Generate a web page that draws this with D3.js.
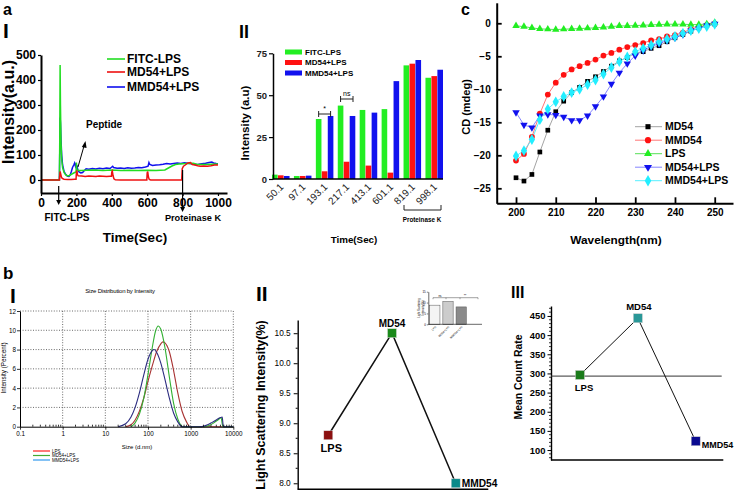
<!DOCTYPE html>
<html><head><meta charset="utf-8">
<script src="https://cdn.jsdelivr.net/npm/d3@7"></script>
<style>
body{margin:0;background:#fff}
svg{display:block;font-family:"Liberation Sans",Arial,Helvetica,sans-serif}
</style>
</head><body>
<svg id="fig" width="738" height="493"></svg>
<script>
// ---------------- DATA ----------------
// Panel a-I : fluorescence intensity vs time (sec)
const aI_FITC = [[0,0],[100,0],[104,0],[106,160],[108,460],[110,300],[113,150],[117,80],[122,50],[130,30],[140,20],[150,16],[160,18],[170,22],[180,26],[190,30],[198,32],[200,70],[202,40],[205,40],[215,38],[230,38],[260,39],[300,40],[350,38],[400,40],[450,38],[500,39],[550,38],[600,39],[650,38],[700,40],[720,48],[740,56],[760,62],[780,64],[800,65],[830,66],[860,67],[880,63],[900,62],[930,62],[960,63],[990,64],[1000,64]];
const aI_MD54 = [[0,0],[100,0],[104,0],[106,20],[108,34],[111,25],[115,12],[120,6],[130,3],[150,2],[170,2],[190,3],[198,3],[200,30],[203,38],[206,22],[210,17],[230,16],[250,14],[270,16],[290,15],[310,14],[330,16],[350,15],[370,14],[390,15],[398,15],[400,32],[403,36],[407,18],[412,5],[420,1],[450,0],[500,0],[550,0],[598,0],[600,28],[603,34],[607,12],[612,2],[620,0],[700,0],[790,0],[795,0],[798,45],[805,55],[815,60],[830,68],[845,70],[855,62],[870,60],[885,57],[900,55],[920,56],[940,55],[960,57],[980,60],[1000,60]];
const aI_MMD54 = [[0,0],[100,0],[104,0],[106,120],[108,250],[110,230],[113,160],[117,100],[122,60],[130,35],[140,22],[150,15],[158,14],[165,20],[172,35],[178,50],[185,60],[190,68],[195,55],[198,62],[203,58],[208,40],[215,32],[225,28],[235,30],[245,38],[255,45],[270,43],[290,46],[310,44],[330,47],[350,45],[370,48],[390,46],[405,55],[410,50],[430,47],[450,48],[470,46],[490,49],[510,47],[530,48],[550,50],[570,49],[590,52],[605,55],[610,70],[615,62],[630,58],[650,60],[670,61],[690,63],[710,66],[730,64],[750,66],[770,68],[790,66],[810,69],[830,67],[850,65],[870,62],[890,63],[910,65],[930,67],[950,70],[965,72],[975,68],[990,66],[1000,65]];
const aI_xTicks = [0,200,400,600,800,1000];
const aI_yTicks = [0,100,200,300,400,500];

// Panel a-II : grouped bars
const aII_times = ["50.1","97.1","193.1","217.1","413.1","601.1","819.1","998.1"];
const aII_FITC  = [2.6,1.8,35.8,43.8,41.2,41.7,67.8,60.4];
const aII_MD54  = [2.2,1.8,4.6,10.3,8.0,3.8,68.8,61.4];
const aII_MMD54 = [1.8,2.0,37.6,37.6,39.6,58.4,71.0,65.2];
const aII_yTicks = [0,25,50,75];

// Panel c : CD spectra
const c_wl = [200,202,204,206,208,210,212,214,216,218,220,222,224,226,228,230,232,234,236,238,240,242,244,246,248,250];
const c_MD54     = [-23.4,-23.9,-22.9,-19.5,-16.2,-13.4,-11.8,-10.5,-9.7,-8.8,-8.1,-7.3,-6.5,-5.7,-5.2,-4.5,-4.3,-3.8,-3.4,-2.8,-2.2,-1.7,-1.2,-0.7,-0.3,-0.1];
const c_MMD54    = [-20.8,-19.8,-17.2,-13.7,-10.8,-9.0,-7.8,-7.0,-6.5,-6.0,-5.5,-4.9,-4.5,-4.0,-3.6,-3.3,-3.0,-2.6,-2.4,-2.0,-1.8,-1.4,-0.9,-0.5,-0.3,-0.1];
const c_LPS      = [-0.4,-0.5,-0.7,-0.85,-0.9,-0.95,-0.9,-0.85,-0.8,-0.75,-0.7,-0.6,-0.5,-0.4,-0.4,-0.35,-0.3,-0.25,-0.2,-0.15,-0.15,-0.15,-0.2,-0.2,-0.1,0.1];
const c_MD54LPS  = [-13.5,-15.4,-15.8,-14.0,-13.8,-13.9,-14.2,-14.7,-14.7,-14.0,-12.6,-11.1,-9.2,-7.5,-6.1,-4.9,-4.1,-3.5,-3.1,-2.6,-2.2,-1.7,-1.1,-0.8,-0.35,-0.1];
const c_MMD54LPS = [-20.1,-19.3,-17.6,-14.6,-13.0,-11.9,-11.1,-10.5,-10.0,-9.3,-8.6,-7.7,-6.7,-5.8,-5.1,-4.3,-3.8,-3.3,-2.8,-2.4,-2.0,-1.5,-1.1,-0.8,-0.5,-0.15];
const c_xTicks = [200,210,220,230,240,250];
const c_yTicks = [0,-5,-10,-15,-20,-25];

// Panel b-I : DLS size distribution (size d.nm, intensity %)
const bI_LPS = [[30,0],[40,0.2],[50,0.7],[63,1.6],[80,3.0],[100,4.7],[126,6.3],[160,7.8],[200,8.6],[224,8.8],[250,8.7],[316,7.8],[400,5.8],[500,3.5],[630,1.6],[800,0.5],[950,0],[10000,0]];
const bI_MD54LPS = [[40,0],[50,0.4],[63,1.3],[80,3.0],[100,5.4],[126,8.2],[150,9.9],[175,10.45],[200,10.1],[250,8.2],[316,5.2],[400,2.4],[500,0.8],[600,0.1],[650,0],[2100,0],[2800,0.15],[3500,0.4],[4500,0.75],[5200,0.93],[5500,0.3],[5700,0],[10000,0]];
const bI_MMD54LPS = [[20,0],[30,0.3],[40,1.0],[50,2.0],[63,3.5],[80,5.4],[100,7.0],[126,7.9],[140,8.0],[160,7.7],[200,6.6],[250,4.9],[316,3.0],[400,1.4],[500,0.5],[630,0],[1600,0],[2000,0.05],[2500,0.2],[3200,0.45],[4000,0.7],[5000,0.95],[5500,1.0],[5800,0.1],[6000,0],[10000,0]];
const bI_xTicks = [0.1,1,10,100,1000,10000];
const bI_yTicks = [0,2,4,6,8,10,12];

// Panel b-II : light scattering intensity
const bII_cats = ["LPS","MD54","MMD54"];
const bII_vals = [8.8,10.5,8.0];
const bII_yTicks = [8.0,8.5,9.0,9.5,10.0,10.5];
const bII_inCats = ["LPS","MD54+LPS","MMD54+LPS"];
const bII_inVals = [8.8,10.5,8.0];

// Panel b-III : mean count rate
const bIII_cats = ["LPS","MD54","MMD54"];
const bIII_vals = [296,444,123];
const bIII_ref = 293;
const bIII_yTicks = [100,150,200,250,300,350,400,450];

// ---------------- HELPERS ----------------
const svg = d3.select("#fig");
function txt(g,x,y,s,o={}){
  const t=g.append("text").attr("x",x).attr("y",y).text(s)
    .attr("font-size",o.size||12).attr("font-weight",o.weight||"bold")
    .attr("text-anchor",o.anchor||"start").attr("fill",o.fill||"#000");
  if(o.rot!=null) t.attr("transform",`rotate(${o.rot},${x},${y})`);
  if(o.dy) t.attr("dy",o.dy);
  if(o.ls) t.attr("letter-spacing",o.ls);
  return t;
}
function styleAxis(g,o){
  g.select(".domain").attr("stroke","#000").attr("stroke-width",o.sw||1.5);
  g.selectAll(".tick line").attr("stroke","#000").attr("stroke-width",o.tw||1.2);
  g.selectAll(".tick text").attr("font-size",o.fs||10).attr("font-weight",o.fw||"bold")
    .attr("font-family",'"Liberation Sans",Arial,sans-serif').attr("fill",o.fill||"#000");
}
function arrowDown(g,x,y1,y2){
  g.append("line").attr("x1",x).attr("x2",x).attr("y1",y1).attr("y2",y2-4).attr("stroke","#000").attr("stroke-width",1.2);
  g.append("path").attr("d",`M${x-2.5},${y2-5}L${x+2.5},${y2-5}L${x},${y2}Z`).attr("fill","#000");
}

// panel letters
txt(svg,3,15,"a",{size:16});
txt(svg,3,38,"I",{size:21});
txt(svg,239,38,"II",{size:18});
txt(svg,461,15,"c",{size:16});
txt(svg,3,279,"b",{size:17});
txt(svg,10,303,"I",{size:21});
txt(svg,256,301,"II",{size:21});
txt(svg,511,298,"III",{size:16});

// ---------------- PANEL a-I ----------------
{
  const g=svg.append("g");
  const x=d3.scaleLinear().domain([0,1051]).range([41,227]);
  const y=d3.scaleLinear().domain([-52,500]).range([193,55]);
  const line=d3.line().x(d=>x(d[0])).y(d=>y(d[1]));
  [[aI_MMD54,"#1010ee"],[aI_FITC,"#22dd22"],[aI_MD54,"#ee1111"]].forEach(([d,c])=>{
    g.append("path").datum(d).attr("d",line).attr("fill","none").attr("stroke",c).attr("stroke-width",1.5);
  });
  const ax=g.append("g").attr("transform","translate(0,193)").call(d3.axisBottom(x).tickValues(aI_xTicks).tickFormat(d3.format("d")).tickSize(3).tickSizeOuter(0).tickPadding(2));
  styleAxis(ax,{fs:12,sw:2});
  const ay=g.append("g").attr("transform","translate(41,0)").call(d3.axisLeft(y).tickValues(aI_yTicks).tickFormat(d3.format("d")).tickSize(3).tickSizeOuter(0).tickPadding(2));
  styleAxis(ay,{fs:12,sw:2});
  txt(g,14,112,"Intensity(a.u.)",{size:16,anchor:"middle",rot:-90});
  txt(g,135,242,"Time(Sec)",{size:13.5,anchor:"middle"});
  // legend
  [["FITC-LPS","#22dd22"],["MD54+LPS","#ee1111"],["MMD54+LPS","#1010ee"]].forEach(([s,c],i)=>{
    const yy=[59,72,87][i];
    g.append("line").attr("x1",107).attr("x2",125).attr("y1",yy).attr("y2",yy).attr("stroke",c).attr("stroke-width",1.6);
    txt(g,127,yy,s,{size:12,dy:"0.36em"});
  });
  // annotations
  txt(g,86,128,"Peptide",{size:10});
  g.append("line").attr("x1",78).attr("y1",167).attr("x2",84).attr("y2",146).attr("stroke","#000").attr("stroke-width",1);
  g.append("path").attr("d","M85.5,141L81.8,147L86.6,148Z").attr("fill","#000");
  arrowDown(g,x(100),186,205);
  txt(g,67,221,"FITC-LPS",{size:10,anchor:"middle"});
  arrowDown(g,x(800),170,212);
  txt(g,193,221,"Proteinase K",{size:9.2,anchor:"middle"});
}

// ---------------- PANEL a-II ----------------
{
  const g=svg.append("g");
  const x0=d3.scaleBand().domain(aII_times).range([272,443]).paddingInner(0.2);
  const x1=d3.scaleBand().domain([0,1,2]).range([0,x0.bandwidth()]).paddingInner(0.06);
  const y=d3.scaleLinear().domain([0,75]).range([179,53.3]);
  const cols=["#22ee22","#ff1111","#1111ee"];
  [aII_FITC,aII_MD54,aII_MMD54].forEach((arr,k)=>{
    g.selectAll(null).data(arr).enter().append("rect")
      .attr("x",(d,i)=>x0(aII_times[i])+x1(k)).attr("width",x1.bandwidth())
      .attr("y",d=>y(d)).attr("height",d=>179-y(d)).attr("fill",cols[k]);
  });
  const ay=g.append("g").attr("transform","translate(273,0)").call(d3.axisLeft(y).tickValues(aII_yTicks).tickSize(4).tickSizeOuter(0).tickPadding(2));
  styleAxis(ay,{fs:9.5,sw:1.5,fill:"#222"});
  g.append("line").attr("x1",273).attr("x2",443).attr("y1",179).attr("y2",179).attr("stroke","#000").attr("stroke-width",1.5);
  aII_times.forEach(t=>{
    const cx=x0(t)+x0.bandwidth()/2+1;
    g.append("text").attr("transform",`translate(${cx},185) rotate(-45)`).attr("text-anchor","end")
      .attr("dy","0.35em").attr("font-size",10).attr("fill","#222").text(t);
  });
  txt(g,249,123,"Intensity (a.u)",{size:11.5,anchor:"middle",rot:-90});
  txt(g,354,243,"Time(Sec)",{size:9.8,anchor:"middle"});
  [["FITC-LPS",cols[0]],["MD54+LPS",cols[1]],["MMD54+LPS",cols[2]]].forEach(([s,c],i)=>{
    const yy=52+i*10.5;
    g.append("rect").attr("x",285).attr("y",yy-2.5).attr("width",17).attr("height",5).attr("fill",c);
    txt(g,305,yy,s,{size:8,dy:"0.36em"});
  });
  // significance brackets
  function br(xa,xb,yy,lab){
    g.append("path").attr("d",`M${xa},${yy-3}V${yy+3}M${xa},${yy}H${xb}M${xb},${yy-3}V${yy+3}`).attr("stroke","#222").attr("fill","none").attr("stroke-width",1);
    txt(g,(xa+xb)/2,yy-3,lab,{size:7,weight:"normal",anchor:"middle"});
  }
  const b1=x0("193.1"), b2=x0("217.1");
  br(b1+x1(0)+x1.bandwidth()/2,b1+x1(2)+x1.bandwidth()/2,114,"*");
  br(b2+x1(0)+x1.bandwidth()/2,b2+x1(2)+x1.bandwidth()/2+0.5,99,"ns");
  g.append("path").attr("d","M404,205V210H441V205").attr("stroke","#222").attr("fill","none").attr("stroke-width",1);
  txt(g,422,222,"Proteinase K",{size:6.3,anchor:"middle"});
}

// ---------------- PANEL c ----------------
{
  const g=svg.append("g");
  const x=d3.scaleLinear().domain([195.14,254.6]).range([496.7,733]);
  const y=d3.scaleLinear().domain([-27.27,3.1]).range([203.3,2.8]);
  const ser=[
    {name:"MD54",v:c_MD54,lc:"#999",mc:"#000",sym:d3.symbolSquare,sz:22,rot:0},
    {name:"MMD54",v:c_MMD54,lc:"#ff6666",mc:"#ff1111",sym:d3.symbolCircle,sz:26,rot:0},
    {name:"LPS",v:c_LPS,lc:"#44dd44",mc:"#22ee22",sym:d3.symbolTriangle,sz:24,rot:0},
    {name:"MD54+LPS",v:c_MD54LPS,lc:"#7777ff",mc:"#1111ee",sym:d3.symbolTriangle,sz:24,rot:180},
    {name:"MMD54+LPS",v:c_MMD54LPS,lc:"#44eeff",mc:"#22eeff",sym:d3.symbolDiamond,sz:34,rot:0}
  ];
  const line=d3.line().x((d,i)=>x(c_wl[i])).y(d=>y(d));
  ser.forEach(s=>{
    g.append("path").datum(s.v).attr("d",line).attr("fill","none").attr("stroke",s.lc).attr("stroke-width",0.9);
  });
  ser.forEach(s=>{
    g.selectAll(null).data(s.v).enter().append("path")
      .attr("d",d3.symbol().type(s.sym).size(s.sz))
      .attr("transform",(d,i)=>`translate(${x(c_wl[i])},${y(d)}) rotate(${s.rot})`).attr("fill",s.mc);
  });
  const ax=g.append("g").attr("transform","translate(0,203.3)").call(d3.axisBottom(x).tickValues(c_xTicks).tickSize(-6).tickSizeOuter(0).tickPadding(6));
  styleAxis(ax,{fs:10,sw:2,tw:1.8});
  const ay=g.append("g").attr("transform","translate(496.7,0)").call(d3.axisLeft(y).tickValues(c_yTicks).tickSize(-5).tickSizeOuter(0).tickPadding(6));
  styleAxis(ay,{fs:10,sw:2,tw:1.8});
  txt(g,470,107,"CD (mdeg)",{size:11,anchor:"middle",rot:-90});
  txt(g,616,244,"Wavelength(nm)",{size:11.8,anchor:"middle"});
  ser.forEach((s,i)=>{
    const yy=126.7+i*13.5;
    g.append("line").attr("x1",635).attr("x2",662).attr("y1",yy).attr("y2",yy).attr("stroke",s.lc).attr("stroke-width",0.9);
    g.append("path").attr("d",d3.symbol().type(s.sym).size(s.sz+4)).attr("transform",`translate(648,${yy}) rotate(${s.rot})`).attr("fill",s.mc);
    txt(g,665,yy,s.name,{size:10.5,dy:"0.36em"});
  });
}

// ---------------- PANEL b-I ----------------
{
  const g=svg.append("g");
  const x=d3.scaleLog().domain([0.1,10000]).range([20,233.3]);
  const y=d3.scaleLinear().domain([0,12]).range([426.7,311]);
  // grid
  bI_xTicks.slice(1).forEach(t=>g.append("line").attr("x1",x(t)).attr("x2",x(t)).attr("y1",311).attr("y2",426.7).attr("stroke","#444").attr("stroke-width",0.8).attr("stroke-dasharray","1,1.6"));
  bI_yTicks.slice(1).forEach(t=>g.append("line").attr("x1",20).attr("x2",233.3).attr("y1",y(t)).attr("y2",y(t)).attr("stroke","#444").attr("stroke-width",0.8).attr("stroke-dasharray","1,1.6"));
  const line=d3.line().x(d=>x(d[0])).y(d=>y(d[1])).curve(d3.curveMonotoneX);
  [[bI_LPS,"#a83232"],[bI_MD54LPS,"#33b033"],[bI_MMD54LPS,"#2c2c80"]].forEach(([d,c])=>{
    g.append("path").datum(d).attr("d",line).attr("fill","none").attr("stroke",c).attr("stroke-width",1.1);
  });
  // minor ticks
  const minors=[];
  [0.1,1,10,100,1000].forEach(dec=>{for(let k=2;k<10;k++) minors.push(dec*k);});
  g.selectAll(null).data(minors).enter().append("line").attr("x1",d=>x(d)).attr("x2",d=>x(d)).attr("y1",426.7).attr("y2",424.7).attr("stroke","#000").attr("stroke-width",0.8);
  const ax=g.append("g").attr("transform","translate(0,426.7)").call(d3.axisBottom(x).tickValues(bI_xTicks).tickFormat(d=>String(d)).tickSize(3).tickSizeOuter(0).tickPadding(2));
  styleAxis(ax,{fs:6.3,fw:"normal",sw:1,tw:0.8});
  const ay=g.append("g").attr("transform","translate(20,0)").call(d3.axisLeft(y).tickValues(bI_yTicks).tickSize(3).tickSizeOuter(0).tickPadding(1));
  styleAxis(ay,{fs:6.3,fw:"normal",sw:1,tw:0.8});
  txt(g,120,293,"Size Distribution by Intensity",{size:6,weight:"normal",anchor:"middle",ls:-0.2});
  txt(g,6,368,"Intensity (Percent)",{size:6.3,weight:"normal",anchor:"middle",rot:-90});
  txt(g,137,449,"Size (d.nm)",{size:6,weight:"normal",anchor:"middle"});
  [["LPS","#ff2020"],["MD54+LPS","#44aa33"],["MMD54+LPS","#3399ee"]].forEach(([s,c],i)=>{
    const yy=451+i*4.5;
    g.append("line").attr("x1",33).attr("x2",50).attr("y1",yy).attr("y2",yy).attr("stroke",c).attr("stroke-width",1.2);
    txt(g,52,yy,s,{size:4.5,weight:"normal",dy:"0.35em"});
  });
}

// ---------------- PANEL b-II ----------------
{
  const g=svg.append("g");
  const x=d3.scalePoint().domain(bII_cats).range([328.3,455.7]);
  const y=d3.scaleLinear().domain([7.9,10.72]).range([489.3,320]);
  const ay=g.append("g").attr("transform","translate(297.7,0)").call(d3.axisLeft(y).tickValues(bII_yTicks).tickFormat(d3.format(".1f")).tickSize(4).tickSizeOuter(0).tickPadding(3));
  styleAxis(ay,{fs:8.3,fw:"normal",sw:1.4,tw:1});
  g.selectAll(null).data(d3.range(8.25,10.72,0.5)).enter().append("line").attr("x1",295.7).attr("x2",297.7).attr("y1",d=>y(d)).attr("y2",d=>y(d)).attr("stroke","#000").attr("stroke-width",1);
  g.append("line").attr("x1",297.7).attr("x2",488.3).attr("y1",489.3).attr("y2",489.3).attr("stroke","#000").attr("stroke-width",1.4);
  const line=d3.line().x((d,i)=>x(bII_cats[i])).y(d=>y(d));
  g.append("path").datum(bII_vals).attr("d",line).attr("fill","none").attr("stroke","#111").attr("stroke-width",1.5);
  const cols=["#8b1010","#1a8a1a","#0a8a8a"];
  bII_vals.forEach((v,i)=>{
    g.append("rect").attr("x",x(bII_cats[i])-4.5).attr("y",y(v)-4.5).attr("width",9).attr("height",9).attr("fill",cols[i]).attr("stroke","#ddd").attr("stroke-width",0.5);
  });
  txt(g,x("LPS")+3,y(8.8)+17,"LPS",{size:11,anchor:"middle"});
  txt(g,x("MD54"),y(10.5)-6,"MD54",{size:10,anchor:"middle"});
  txt(g,x("MMD54")+6,y(8.0),"MMD54",{size:10.2,dy:"0.36em"});
  txt(g,265,405,"Light Scattering Intensity(%)",{size:12.5,anchor:"middle",rot:-90});
  // inset
  const ix=d3.scaleBand().domain(bII_inCats).range([429,467]).paddingInner(0.22).paddingOuter(0.05);
  const iy=d3.scaleLinear().domain([0,15]).range([324.3,291.7]);
  const ic=["#f4f4f4","#cccccc","#8a8a8a"];
  bII_inVals.forEach((v,i)=>{
    g.append("rect").attr("x",ix(bII_inCats[i])).attr("width",ix.bandwidth()).attr("y",iy(v)).attr("height",324.3-iy(v)).attr("fill",ic[i]).attr("stroke","#555").attr("stroke-width",0.5);
  });
  const iay=g.append("g").attr("transform","translate(428.3,0)").call(d3.axisLeft(iy).tickValues([0,5,10,15]).tickSize(1.5).tickSizeOuter(0).tickPadding(1));
  styleAxis(iay,{fs:3,fw:"normal",sw:0.6,tw:0.5});
  g.append("line").attr("x1",428.3).attr("x2",482).attr("y1",324.3).attr("y2",324.3).attr("stroke","#000").attr("stroke-width",0.6);
  g.append("path").attr("d","M433,297.7H478M433,297.7v1.5M446,297.7v1.5M460,297.7v1.5M478,297.7v1.5").attr("stroke","#444").attr("stroke-width",0.5).attr("fill","none");
  txt(g,440,297,"ns",{size:3,weight:"normal",anchor:"middle"});
  txt(g,465,297,"**",{size:3.5,weight:"normal",anchor:"middle"});
  bII_inCats.forEach(c=>{
    g.append("text").attr("transform",`translate(${ix(c)+ix.bandwidth()/2+1},326.5) rotate(-45)`).attr("text-anchor","end").attr("dy","0.35em").attr("font-size",2.8).text(c);
  });
  txt(g,420,308,"Light Scattering",{size:2.8,weight:"normal",anchor:"middle",rot:-90});
  txt(g,423.5,308,"Intensity(%)",{size:2.8,weight:"normal",anchor:"middle",rot:-90});
}

// ---------------- PANEL b-III ----------------
{
  const g=svg.append("g");
  const x=d3.scalePoint().domain(bIII_cats).range([580,695.7]);
  const y=d3.scaleLinear().domain([74,476]).range([460,306]);
  const ay=g.append("g").attr("transform","translate(551,0)").call(d3.axisLeft(y).tickValues(bIII_yTicks).tickSize(3.5).tickSizeOuter(0).tickPadding(2));
  styleAxis(ay,{fs:9.4,sw:1.4,tw:1});
  const minor=d3.range(80,476,10).filter(v=>v%50!==0);
  g.selectAll(null).data(minor).enter().append("line").attr("x1",549).attr("x2",551).attr("y1",d=>y(d)).attr("y2",d=>y(d)).attr("stroke","#000").attr("stroke-width",0.8);
  g.append("line").attr("x1",551).attr("x2",723.3).attr("y1",460).attr("y2",460).attr("stroke","#000").attr("stroke-width",1.4);
  g.append("line").attr("x1",551).attr("x2",721.7).attr("y1",y(bIII_ref)).attr("y2",y(bIII_ref)).attr("stroke","#333").attr("stroke-width",1);
  const line=d3.line().x((d,i)=>x(bIII_cats[i])).y(d=>y(d));
  g.append("path").datum(bIII_vals).attr("d",line).attr("fill","none").attr("stroke","#111").attr("stroke-width",1);
  const cols=["#1a7a1a","#2a9898","#0a0a90"];
  bIII_vals.forEach((v,i)=>{
    g.append("rect").attr("x",x(bIII_cats[i])-4.5).attr("y",y(v)-4.5).attr("width",9).attr("height",9).attr("fill",cols[i]).attr("stroke","#ccc").attr("stroke-width",0.5);
  });
  txt(g,x("LPS")+4,y(296)+16,"LPS",{size:9.5,anchor:"middle"});
  txt(g,x("MD54")+1,y(444)-8,"MD54",{size:9.5,anchor:"middle"});
  txt(g,x("MMD54")+6,y(123)+4,"MMD54",{size:9,dy:"0.36em"});
  txt(g,522,377,"Mean Count Rate",{size:10.4,anchor:"middle",rot:-90});
}
</script>
</body></html>
